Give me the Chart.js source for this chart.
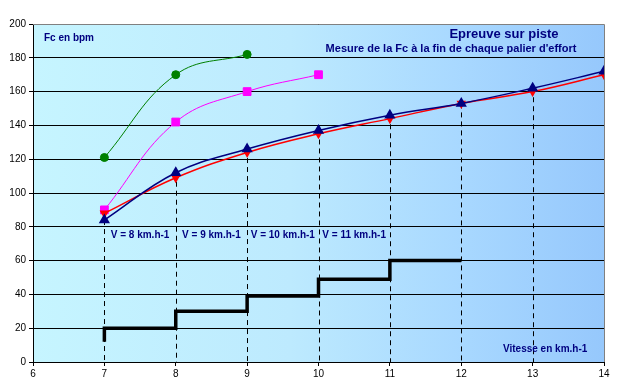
<!DOCTYPE html>
<html>
<head>
<meta charset="utf-8">
<script src="https://cdn.jsdelivr.net/npm/chart.js@4/dist/chart.umd.min.js"></script>
<style>
  html, body { margin: 0; padding: 0; background: #fff; }
  #wrap { width: 620px; height: 390px; position: relative; }
</style>
</head>
<body>
<div id="wrap"><canvas id="piste"></canvas></div>
<script>
// vitesses (km/h)
const vitesses = [7, 8, 9, 10, 11, 12, 13, 14];
// Fc (bpm) par série
const fcVert = [121, 170, 182];
const fcRose = [90, 142, 160, 170];
const fcRouge = [88, 109, 124, 135, 144, 153, 160, 170];
const fcBleu = [84, 112, 126, 137, 146, 153, 162, 172];
// paliers de vitesse (escalier)
const palierX = [7, 7, 8, 9, 10, 11, 12];
const palierY = [12, 20, 30, 39, 49, 60, 60];
// étiquettes des paliers
const palierLabels = ['V = 8 km.h-1', 'V = 9 km.h-1', 'V = 10 km.h-1', 'V = 11 km.h-1'];
const palierLabelX = [7.5, 8.5, 9.5, 10.5];
const palierLabelY = 75;

const pts = (xs, ys) => ys.map((y, i) => ({ x: xs[i], y: y }));

const fondPlugin = {
    id: 'fond',
    beforeDraw(chart) {
        const { ctx, chartArea: a } = chart;
        const g = ctx.createLinearGradient(a.left, 0, a.right, 0);
        g.addColorStop(0, '#c6f5ff');
        g.addColorStop(0.45, '#bdeafe');
        g.addColorStop(0.75, '#a8d8ff');
        g.addColorStop(1, '#96c8fc');
        ctx.save();
        ctx.fillStyle = g;
        ctx.fillRect(a.left, a.top, a.right - a.left, a.bottom - a.top);
        ctx.restore();
    },
    beforeDatasetsDraw(chart) {
        // lignes de projection en pointillés
        const { ctx, chartArea: a } = chart;
        const meta = chart.getDatasetMeta(1);
        ctx.save();
        ctx.strokeStyle = '#000';
        ctx.lineWidth = 1;
        ctx.setLineDash([5, 4]);
        meta.data.forEach(p => {
            const x = Math.round(p.x) + 0.5;
            ctx.beginPath();
            ctx.moveTo(x, p.y);
            ctx.lineTo(x, a.bottom);
            ctx.stroke();
        });
        ctx.restore();
    },
    afterDraw(chart) {
        const { ctx, chartArea: a, scales } = chart;
        ctx.save();
        // bordure haut / droite
        ctx.strokeStyle = '#808080';
        ctx.lineWidth = 1;
        ctx.beginPath();
        ctx.moveTo(a.left, a.top + 0.5);
        ctx.lineTo(a.right + 0.5, a.top + 0.5);
        ctx.lineTo(a.right + 0.5, a.bottom);
        ctx.stroke();

        ctx.fillStyle = '#000080';
        ctx.textBaseline = 'middle';
        ctx.textAlign = 'center';
        ctx.font = 'bold 13px "Liberation Sans", Arial, sans-serif';
        ctx.fillText('Epreuve sur piste', 504, 34);
        ctx.font = 'bold 11px "Liberation Sans", Arial, sans-serif';
        ctx.fillText("Mesure de la Fc à la fin de chaque palier d'effort", 451, 49);

        ctx.font = 'bold 10px "Liberation Sans", Arial, sans-serif';
        ctx.textAlign = 'left';
        ctx.fillText('Fc en bpm', 44, 38);
        ctx.fillText('Vitesse en km.h-1', 503, 349);

        ctx.textAlign = 'center';
        palierLabels.forEach((t, i) => {
            ctx.fillText(t, scales.x.getPixelForValue(palierLabelX[i]), scales.y.getPixelForValue(palierLabelY));
        });
        ctx.restore();
    }
};

const tickFont = { family: '"Liberation Sans", Arial, sans-serif', size: 10 };

new Chart(document.getElementById('piste'), {
    type: 'line',
    data: {
        datasets: [
            {
                data: pts(vitesses, fcVert),
                borderColor: '#008000', backgroundColor: '#008000',
                borderWidth: 1, tension: 0.4,
                pointStyle: 'circle', pointRadius: 4
            },
            {
                data: pts(vitesses, fcBleu),
                borderColor: '#000080', backgroundColor: '#000080',
                borderWidth: 1.5, tension: 0.4,
                pointStyle: 'triangle', pointRadius: 5
            },
            {
                data: pts(vitesses, fcRouge),
                borderColor: '#ff0000', backgroundColor: '#ff0000',
                borderWidth: 1.5, tension: 0.4,
                pointStyle: 'triangle', pointRotation: 180, pointRadius: 4
            },
            {
                data: pts(vitesses, fcRose),
                borderColor: '#ff00ff', backgroundColor: '#ff00ff',
                borderWidth: 1, tension: 0.4,
                pointStyle: 'rect', pointRadius: 5.5
            },
            {
                data: pts(palierX, palierY),
                borderColor: '#000', borderWidth: 3.5,
                stepped: 'before', pointRadius: 0
            }
        ]
    },
    options: {
        responsive: true,
        maintainAspectRatio: false,
        animation: false,
        layout: { padding: { top: 24, right: 16, left: 0, bottom: 0 } },
        plugins: { legend: { display: false }, tooltip: { enabled: false } },
        scales: {
            x: {
                type: 'linear', min: 6, max: 14,
                ticks: { stepSize: 1, color: '#000', font: tickFont, padding: 2 },
                grid: { drawOnChartArea: false, color: '#000', tickLength: 4 },
                border: { color: '#000', width: 1 },
                afterFit(s) { s.height = 28; }
            },
            y: {
                min: 0, max: 200,
                ticks: { stepSize: 20, color: '#000', font: tickFont, padding: 3 },
                grid: { color: '#000', lineWidth: 1, tickLength: 4 },
                border: { color: '#000', width: 1 },
                afterFit(s) { s.width = 33; }
            }
        }
    },
    plugins: [fondPlugin]
});
</script>
</body>
</html>
